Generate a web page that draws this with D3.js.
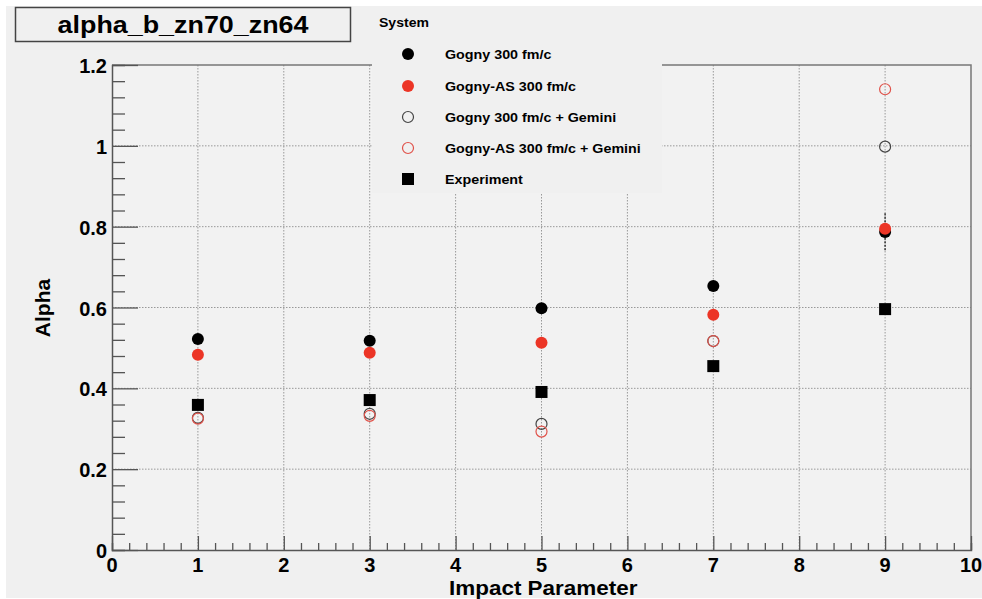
<!DOCTYPE html>
<html>
<head>
<meta charset="utf-8">
<script src="https://cdn.jsdelivr.net/npm/d3@7"></script>
<style>
  body { margin: 0; background: #fff; }
  text { font-family: "Liberation Sans", Arial, sans-serif; font-weight: bold; }
</style>
</head>
<body>
<svg id="chart" width="982" height="599"></svg>
<script>
// impact parameter values
var impact = [1, 3, 5, 7, 9];

// alpha per series
var gogny = [0.522, 0.518, 0.598, 0.653, 0.787];
var gognyErr = [0.01, 0.01, 0.01, 0.01, 0.046];
var gognyAS = [0.483, 0.488, 0.513, 0.582, 0.795];
var gognyGemini = [0.327, 0.337, 0.312, 0.517, 0.998];
var gognyASGemini = [0.325, 0.332, 0.293, 0.517, 1.140];
var experiment = [0.359, 0.371, 0.391, 0.455, 0.596];

var xTicks = [0, 1, 2, 3, 4, 5, 6, 7, 8, 9, 10];
var yTicks = [0, 0.2, 0.4, 0.6, 0.8, 1, 1.2];

var legendTitle = "System";
var legendLabels = ["Gogny 300 fm/c", "Gogny-AS 300 fm/c", "Gogny 300 fm/c + Gemini",
    "Gogny-AS 300 fm/c + Gemini", "Experiment"];

var svg = d3.select("#chart"),
    margin = { top: 65, right: 11, bottom: 49, left: 112 },
    width = 982 - margin.left - margin.right,
    height = 599 - margin.top - margin.bottom;

var red = "#ec3526";

// pad background
svg.append("rect")
    .attr("x", 6).attr("y", 6)
    .attr("width", 976).attr("height", 592)
    .attr("fill", "#f0f0f0");

var g = svg.append("g").attr("transform", "translate(" + margin.left + "," + margin.top + ")");

var x = d3.scaleLinear().domain([0, 10]).range([0, width]);
var y = d3.scaleLinear().domain([0, 1.2]).range([height, 0]);

g.append("rect")
    .attr("width", width).attr("height", height)
    .attr("fill", "#f2f2f2");

// grid
g.append("g").selectAll("line")
    .data(xTicks.slice(1, -1))
    .enter().append("line")
    .attr("x1", x).attr("x2", x)
    .attr("y1", 0).attr("y2", height)
    .attr("stroke", "#999").attr("stroke-width", 1)
    .attr("stroke-dasharray", "1.5,1.5");

g.append("g").selectAll("line")
    .data(yTicks.slice(1, -1))
    .enter().append("line")
    .attr("y1", y).attr("y2", y)
    .attr("x1", 0).attr("x2", width)
    .attr("stroke", "#999").attr("stroke-width", 1)
    .attr("stroke-dasharray", "1.5,1.5");

// frame top / right
g.append("path")
    .attr("d", "M0,0H" + width + "V" + height)
    .attr("fill", "none")
    .attr("stroke", "#777").attr("stroke-width", 1.5);

// x axis
var xAxis = g.append("g").attr("transform", "translate(0," + height + ")");
xAxis.call(d3.axisBottom(x).tickValues(d3.range(0, 10.01, 0.2)).tickSize(-7).tickFormat(""));
xAxis.call(function (a) {
    a.selectAll(".tick line").attr("stroke", "#555").attr("stroke-width", 1.3);
    a.select(".domain").attr("stroke", "#555").attr("stroke-width", 1.5);
});
xAxis.selectAll(".tick")
    .filter(function (d) { return Math.abs(d - Math.round(d)) < 1e-6; })
    .select("line").attr("y2", -14);
xAxis.selectAll(".lbl")
    .data(xTicks)
    .enter().append("text")
    .attr("class", "lbl")
    .attr("x", x)
    .attr("y", 22)
    .attr("text-anchor", "middle")
    .attr("font-size", 20)
    .attr("fill", "#000")
    .text(function (d) { return d; });

// y axis
var yAxis = g.append("g");
yAxis.call(d3.axisLeft(y).tickValues(d3.range(0, 1.2001, 0.04)).tickSize(-13).tickFormat(""));
yAxis.call(function (a) {
    a.selectAll(".tick line").attr("stroke", "#555").attr("stroke-width", 1.3);
    a.select(".domain").attr("stroke", "#555").attr("stroke-width", 1.5);
});
yAxis.selectAll(".tick")
    .filter(function (d) { return Math.abs(d * 5 - Math.round(d * 5)) < 1e-6; })
    .select("line").attr("x2", 26);
yAxis.selectAll(".lbl")
    .data(yTicks)
    .enter().append("text")
    .attr("class", "lbl")
    .attr("x", -5)
    .attr("y", function (d) { return y(d) + 8; })
    .attr("text-anchor", "end")
    .attr("font-size", 20)
    .attr("fill", "#000")
    .text(function (d) { return d; });

// axis titles
svg.append("text")
    .attr("transform", "translate(" + (margin.left + x(5.02)) + ",595)scale(1.07,1)")
    .attr("text-anchor", "middle")
    .attr("font-size", 21)
    .text("Impact Parameter");

svg.append("text")
    .attr("transform", "translate(50,308)rotate(-90)")
    .attr("text-anchor", "middle")
    .attr("font-size", 21)
    .text("Alpha");

// error bars (Gogny)
g.append("g").selectAll("line")
    .data(impact)
    .enter().append("line")
    .attr("x1", x).attr("x2", x)
    .attr("y1", function (d, i) { return y(gogny[i] + gognyErr[i]); })
    .attr("y2", function (d, i) { return y(gogny[i] - gognyErr[i]); })
    .attr("stroke", "#333").attr("stroke-width", 1.5)
    .attr("stroke-dasharray", "2,1.5");

// markers
function circles(values, fill, stroke) {
    g.append("g").selectAll("circle")
        .data(impact)
        .enter().append("circle")
        .attr("cx", x)
        .attr("cy", function (d, i) { return y(values[i]); })
        .attr("r", fill === "none" ? 5.5 : 6)
        .attr("fill", fill)
        .attr("stroke", stroke)
        .attr("stroke-width", fill === "none" ? 1.2 : 0);
}
circles(gognyGemini, "none", "#444");
circles(gognyASGemini, "none", "#e0524a");
circles(gogny, "#000", "none");
circles(gognyAS, red, "none");

g.append("g").selectAll("rect")
    .data(impact)
    .enter().append("rect")
    .attr("x", function (d) { return x(d) - 6; })
    .attr("y", function (d, i) { return y(experiment[i]) - 6; })
    .attr("width", 12).attr("height", 12)
    .attr("fill", "#000");

// legend
var leg = svg.append("g");
leg.append("rect")
    .attr("x", 372).attr("y", 8)
    .attr("width", 290).attr("height", 185)
    .attr("fill", "#f0f0f0");
leg.append("text")
    .attr("transform", "translate(379,27)scale(1.08,1)")
    .attr("font-size", 13)
    .text(legendTitle);

var rowsY = [54, 86, 117, 148, 179];
var rows = leg.selectAll(".row")
    .data(legendLabels)
    .enter().append("g")
    .attr("class", "row")
    .attr("transform", function (d, i) { return "translate(408," + rowsY[i] + ")"; });

rows.each(function (d, i) {
    var r = d3.select(this);
    if (i === 4) {
        r.append("rect").attr("x", -6).attr("y", -6).attr("width", 12).attr("height", 12).attr("fill", "#000");
    } else {
        var filled = i < 2;
        r.append("circle")
            .attr("r", filled ? 6 : 5.5)
            .attr("fill", i === 0 ? "#000" : i === 1 ? red : "none")
            .attr("stroke", i === 2 ? "#444" : i === 3 ? "#e0524a" : "none")
            .attr("stroke-width", 1.2);
    }
});

rows.append("text")
    .attr("transform", "translate(37,5)scale(1.1,1)")
    .attr("font-size", 13)
    .text(function (d) { return d; });

// title box
svg.append("rect")
    .attr("x", 15.5).attr("y", 7.5)
    .attr("width", 335).attr("height", 34)
    .attr("fill", "#f0f0f0")
    .attr("stroke", "#444").attr("stroke-width", 1.5);
svg.append("text")
    .attr("transform", "translate(183,33)scale(1.12,1)")
    .attr("text-anchor", "middle")
    .attr("font-size", 24)
    .text("alpha_b_zn70_zn64");
</script>
</body>
</html>
